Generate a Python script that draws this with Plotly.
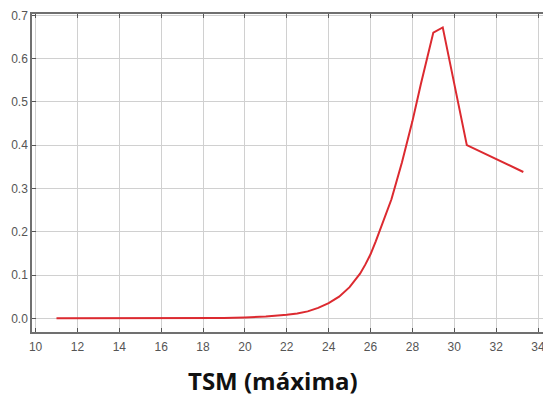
import plotly.graph_objects as go

tsm_x = [11, 12, 13, 14, 15, 16, 17, 18, 19, 20, 21, 22, 22.5, 23, 23.5, 24, 24.5,
         25, 25.5, 25.75, 26, 26.25, 26.5, 26.75, 27, 27.5, 28, 28.4, 29.0, 29.45,
         30.6, 33.3]
prob_y = [0, 0, 0, 0, 0, 0, 0, 0, 0.001, 0.002, 0.004, 0.008, 0.011, 0.016, 0.024,
          0.035, 0.05, 0.072, 0.103, 0.124, 0.148, 0.178, 0.21, 0.242, 0.275, 0.36,
          0.455, 0.54, 0.66, 0.672, 0.40, 0.338]

x_ticks = list(range(10, 36, 2))
y_ticks = [0.0, 0.1, 0.2, 0.3, 0.4, 0.5, 0.6, 0.7]
x_title = "TSM (máxima)"

fig = go.Figure()
fig.add_trace(go.Scatter(x=tsm_x, y=prob_y, mode="lines",
                         line=dict(color="#dc2a30", width=2), showlegend=False))

axis_common = dict(showgrid=True, gridcolor="#d0d0d0", gridwidth=1, automargin=False,
                   showline=True, linecolor="#707070", linewidth=1.5, mirror="ticks",
                   ticks="inside", ticklen=4, tickcolor="#555555",
                   tickfont=dict(family="Liberation Sans, Arial", size=12, color="#555555"),
                   zeroline=False)

fig.update_xaxes(range=[9.83, 34.43], tickvals=x_ticks, ticklabelstandoff=3, **axis_common)
fig.update_yaxes(range=[-0.0316, 0.703], tickvals=y_ticks, tickformat=".1f", **axis_common)

fig.add_annotation(text="<b>" + x_title + "</b>", xref="paper", yref="paper",
                   x=0.467, y=-0.152, xanchor="center", yanchor="middle", showarrow=False,
                   font=dict(family="Open Sans", size=24, color="#111111"))

# page body adds an 8px offset; margins compensate so the plot lands where the reference has it
fig.update_layout(width=551, height=398, margin=dict(l=24, r=12, t=6, b=74, autoexpand=False),
                  plot_bgcolor="white", paper_bgcolor="white")

fig.write_html("out.html")
